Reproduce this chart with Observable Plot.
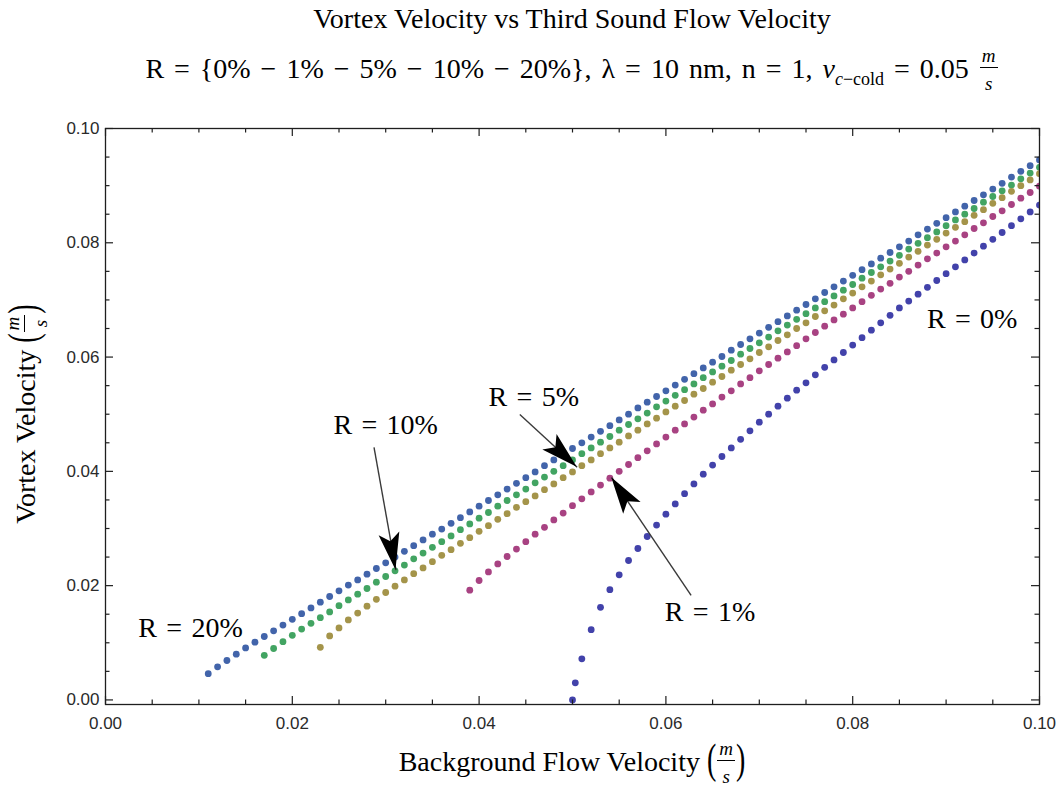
<!DOCTYPE html>
<html>
<head>
<meta charset="utf-8">
<script src="https://cdn.jsdelivr.net/npm/d3@7"></script>
<script src="https://cdn.jsdelivr.net/npm/@observablehq/plot@0.6"></script>
<style>
  html, body { margin: 0; padding: 0; background: #fff; }
  #wrap { position: relative; width: 1060px; height: 789px; background: #fff; overflow: hidden; }
  .serif { font-family: "Liberation Serif", "Times New Roman", serif; color: #000; }
  .lbl { position: absolute; font-size: 28px; line-height: 28px; text-align: center; white-space: nowrap; }
  .frac { display: inline-block; vertical-align: -12px; text-align: center; font-style: italic; font-size: 19px; line-height: 22px; margin: 0 1px; }
  .frac .n { display: block; border-bottom: 1.2px solid #000; padding: 0 2px; }
  .frac .d { display: block; padding-top: 5px; }
  .paren { display: inline-block; transform: scaleY(1.5); transform-origin: 50% 66%; }
  #chart { position: absolute; left: 0; top: 100px; }
</style>
</head>
<body>
<div id="wrap">
  <div id="title" class="serif lbl" style="left:105px;width:934px;top:4.5px;">Vortex Velocity vs Third Sound Flow Velocity</div>
  <div id="subtitle" class="serif lbl" style="left:105px;width:934px;top:45.4px;word-spacing:3px;">R = {0% − 1% − 5% − 10% − 20%}, λ = 10 nm, n = 1, <i>v</i><span style="font-size:18px;position:relative;top:7px;"><i>c</i>−cold</span> = 0.05 <span class="frac"><span class="n">m</span><span class="d">s</span></span></div>
  <div id="chart"></div>
  <div id="xlabel" class="serif lbl" style="left:105px;width:934px;top:738px;">Background Flow Velocity <span class="paren">(</span><span class="frac"><span class="n">m</span><span class="d">s</span></span><span class="paren">)</span></div>
  <div id="ylabel" class="serif lbl" style="left:-221.6px;top:388px;width:500px;height:52px;transform:rotate(-90deg);transform-origin:50% 50%;">Vortex Velocity <span class="paren">(</span><span class="frac"><span class="n">m</span><span class="d">s</span></span><span class="paren">)</span></div>
</div>
<script>
// ---------- data ----------
const flow = [
  0.011,0.012,0.013,0.014,0.015,0.016,0.017,0.018,0.019,0.020,
  0.021,0.022,0.023,0.024,0.025,0.026,0.027,0.028,0.029,0.030,
  0.031,0.032,0.033,0.034,0.035,0.036,0.037,0.038,0.039,0.040,
  0.041,0.042,0.043,0.044,0.045,0.046,0.047,0.048,0.049,0.050,
  0.051,0.052,0.053,0.054,0.055,0.056,0.057,0.058,0.059,0.060,
  0.061,0.062,0.063,0.064,0.065,0.066,0.067,0.068,0.069,0.070,
  0.071,0.072,0.073,0.074,0.075,0.076,0.077,0.078,0.079,0.080,
  0.081,0.082,0.083,0.084,0.085,0.086,0.087,0.088,0.089,0.090,
  0.091,0.092,0.093,0.094,0.095,0.096,0.097,0.098,0.099,0.100
];
const r20 = [
  0.0046,0.0058,0.0069,0.0080,0.0091,0.0101,0.0111,0.0121,0.0131,0.0141,
  0.0151,0.0161,0.0171,0.0181,0.0191,0.0201,0.0210,0.0220,0.0230,0.0240,
  0.0250,0.0260,0.0270,0.0280,0.0290,0.0299,0.0309,0.0319,0.0329,0.0339,
  0.0349,0.0359,0.0369,0.0379,0.0389,0.0399,0.0410,0.0420,0.0430,0.0440,
  0.0450,0.0460,0.0470,0.0480,0.0490,0.0500,0.0511,0.0521,0.0531,0.0541,
  0.0551,0.0561,0.0571,0.0581,0.0591,0.0601,0.0612,0.0622,0.0632,0.0642,
  0.0652,0.0662,0.0672,0.0682,0.0692,0.0702,0.0713,0.0723,0.0733,0.0743,
  0.0753,0.0763,0.0773,0.0783,0.0793,0.0803,0.0814,0.0824,0.0834,0.0844,
  0.0854,0.0864,0.0874,0.0884,0.0894,0.0904,0.0915,0.0925,0.0935,0.0945
];
const r10 = [
  null,null,null,null,null,null,0.0078,0.0090,0.0102,0.0113,
  0.0124,0.0134,0.0144,0.0154,0.0165,0.0175,0.0185,0.0195,0.0206,0.0216,
  0.0226,0.0236,0.0247,0.0257,0.0267,0.0277,0.0287,0.0298,0.0308,0.0318,
  0.0328,0.0339,0.0349,0.0359,0.0369,0.0380,0.0390,0.0400,0.0410,0.0420,
  0.0431,0.0441,0.0451,0.0461,0.0472,0.0482,0.0492,0.0502,0.0513,0.0523,
  0.0533,0.0543,0.0553,0.0564,0.0574,0.0584,0.0594,0.0605,0.0615,0.0625,
  0.0635,0.0646,0.0656,0.0666,0.0676,0.0686,0.0697,0.0707,0.0717,0.0727,
  0.0738,0.0748,0.0758,0.0768,0.0778,0.0789,0.0799,0.0809,0.0819,0.0830,
  0.0840,0.0850,0.0860,0.0871,0.0881,0.0891,0.0901,0.0912,0.0922,0.0932
];
const r5 = [
  null,null,null,null,null,null,null,null,null,null,
  null,null,0.0092,0.0112,0.0126,0.0140,0.0152,0.0164,0.0176,0.0188,
  0.0199,0.0210,0.0221,0.0231,0.0242,0.0253,0.0263,0.0274,0.0284,0.0295,
  0.0305,0.0316,0.0326,0.0337,0.0347,0.0357,0.0368,0.0378,0.0389,0.0399,
  0.0410,0.0420,0.0431,0.0441,0.0451,0.0462,0.0472,0.0483,0.0493,0.0504,
  0.0514,0.0524,0.0535,0.0545,0.0556,0.0566,0.0577,0.0587,0.0597,0.0608,
  0.0618,0.0629,0.0639,0.0650,0.0660,0.0671,0.0681,0.0691,0.0702,0.0712,
  0.0723,0.0733,0.0744,0.0754,0.0764,0.0775,0.0785,0.0796,0.0806,0.0817,
  0.0827,0.0837,0.0848,0.0858,0.0869,0.0879,0.0890,0.0900,0.0910,0.0921
];
const r1 = [
  null,null,null,null,null,null,null,null,null,null,
  null,null,null,null,null,null,null,null,null,null,
  null,null,null,null,null,null,null,null,0.0192,0.0209,
  0.0224,0.0238,0.0251,0.0264,0.0277,0.0290,0.0302,0.0315,0.0327,0.0340,
  0.0352,0.0364,0.0376,0.0388,0.0400,0.0412,0.0424,0.0436,0.0448,0.0460,
  0.0472,0.0483,0.0495,0.0507,0.0518,0.0530,0.0541,0.0553,0.0564,0.0576,
  0.0587,0.0598,0.0609,0.0620,0.0632,0.0643,0.0654,0.0665,0.0675,0.0686,
  0.0697,0.0708,0.0719,0.0729,0.0740,0.0750,0.0761,0.0772,0.0782,0.0793,
  0.0803,0.0814,0.0825,0.0835,0.0846,0.0856,0.0867,0.0878,0.0888,0.0899
];
const r0Flow = [
  0.0500,0.0503,
  0.051,0.052,0.053,0.054,0.055,0.056,0.057,0.058,0.059,0.060,
  0.061,0.062,0.063,0.064,0.065,0.066,0.067,0.068,0.069,0.070,
  0.071,0.072,0.073,0.074,0.075,0.076,0.077,0.078,0.079,0.080,
  0.081,0.082,0.083,0.084,0.085,0.086,0.087,0.088,0.089,0.090,
  0.091,0.092,0.093,0.094,0.095,0.096,0.097,0.098,0.099,0.100
];
const r0 = [
  0.0000,0.0030,
  0.0072,0.0123,0.0162,0.0193,0.0219,0.0244,0.0265,0.0286,0.0306,0.0325,
  0.0343,0.0361,0.0378,0.0395,0.0411,0.0426,0.0441,0.0456,0.0471,0.0486,
  0.0500,0.0514,0.0528,0.0542,0.0555,0.0569,0.0582,0.0595,0.0608,0.0621,
  0.0634,0.0647,0.0660,0.0673,0.0686,0.0698,0.0710,0.0722,0.0734,0.0746,
  0.0758,0.0770,0.0782,0.0794,0.0806,0.0818,0.0830,0.0842,0.0854,0.0866
];
const seriesNames  = ["R = 20%", "R = 10%", "R = 5%", "R = 1%", "R = 0%"];
const seriesColors = ["#4264aa", "#42a462", "#a4944a", "#a84282", "#4242aa"];

const xMajor = [0, 0.02, 0.04, 0.06, 0.08, 0.10];
const xMinor = [0.005,0.010,0.015,0.025,0.030,0.035,0.045,0.050,0.055,0.065,0.070,0.075,0.085,0.090,0.095];
const yMajor = [0, 0.02, 0.04, 0.06, 0.08, 0.10];
const yMinor = [0.005,0.010,0.015,0.025,0.030,0.035,0.045,0.050,0.055,0.065,0.070,0.075,0.085,0.090,0.095];

// annotation labels (data coordinates of label centres)
const noteText = ["R\u2004=\u200420%", "R\u2004=\u200410%", "R\u2004=\u20045%", "R\u2004=\u20041%", "R\u2004=\u20040%"];
const noteX = [0.00911, 0.0300, 0.04586, 0.06472, 0.09279];
const noteY = [0.01251, 0.04802, 0.05292, 0.01531, 0.06674];

// arrows: tail -> tip (data coordinates)
const arrowTailX = [0.02875, 0.04436, 0.0627];
const arrowTailY = [0.0442, 0.04995, 0.01828];
const arrowTipX  = [0.0311, 0.0505, 0.0542];
const arrowTipY  = [0.0227, 0.0407, 0.0389];

// ---------- build ----------
const W = 1060, H = 689, mt = 28, mb = 85, ml = 105, mr = 21;
const innerW = W - ml - mr, innerH = H - mt - mb;
const ink = "#1e1e1e";

const allSeries = [
  {x: flow, y: r20}, {x: flow, y: r10}, {x: flow, y: r5}, {x: flow, y: r1}, {x: r0Flow, y: r0}
];
const dotMarks = allSeries.map((s, k) => {
  const rows = s.x.map((v, i) => ({flow: v, vortex: s.y[i], series: seriesNames[k]})).filter(d => d.vortex != null);
  return Plot.dot(rows, {x: "flow", y: "vortex", r: 3.4, fill: seriesColors[k], stroke: "none", clip: true});
});

const arrows = arrowTailX.map((_, i) => ({x1: arrowTailX[i], y1: arrowTailY[i], x2: arrowTipX[i], y2: arrowTipY[i]}));
const notes = noteText.map((t, i) => ({t, x: noteX[i], y: noteY[i]}));

const plot = Plot.plot({
  width: W, height: H,
  marginTop: mt, marginBottom: mb, marginLeft: ml, marginRight: mr,
  x: {domain: [0, 0.1]},
  y: {domain: [-0.0008, 0.1]},
  style: {fontFamily: "'Liberation Sans', Arial, sans-serif", fontSize: "17px", background: "#fff", color: "#2a2a2a", overflow: "visible"},
  marks: [
    ...dotMarks,
    Plot.link(arrows, {x1: "x1", y1: "y1", x2: "x2", y2: "y2", stroke: "#3a3a3a", strokeWidth: 1.4}),
    Plot.text(notes, {x: "x", y: "y", text: "t", fontFamily: "'Liberation Serif', 'Times New Roman', serif", fontSize: 28, fill: "#000", textAnchor: "middle", lineAnchor: "middle"}),
    // inward frame ticks
    Plot.tickX(xMajor, {x: d => d, insetTop: innerH - 8, stroke: ink, strokeWidth: 1.2}),
    Plot.tickX(xMinor, {x: d => d, insetTop: innerH - 4.5, stroke: ink, strokeWidth: 1.2}),
    Plot.tickX(xMajor, {x: d => d, insetBottom: innerH - 8, stroke: ink, strokeWidth: 1.2}),
    Plot.tickX(xMinor, {x: d => d, insetBottom: innerH - 4.5, stroke: ink, strokeWidth: 1.2}),
    Plot.tickY(yMajor, {y: d => d, insetRight: innerW - 8, stroke: ink, strokeWidth: 1.2}),
    Plot.tickY(yMinor, {y: d => d, insetRight: innerW - 4.5, stroke: ink, strokeWidth: 1.2}),
    Plot.tickY(yMajor, {y: d => d, insetLeft: innerW - 8, stroke: ink, strokeWidth: 1.2}),
    Plot.tickY(yMinor, {y: d => d, insetLeft: innerW - 4.5, stroke: ink, strokeWidth: 1.2}),
    Plot.axisX(xMajor, {tickSize: 0, tickPadding: 12, tickFormat: d3.format(".2f"), label: null}),
    Plot.axisY(yMajor, {tickSize: 0, tickPadding: 6, tickFormat: d3.format(".2f"), label: null}),
    Plot.frame({stroke: ink, strokeWidth: 1.3})
  ]
});

// filled arrowheads positioned through the plot's own scales
const X = plot.scale("x"), Y = plot.scale("y");
const fx = X.apply ? (v => X.apply(v)) : d3.scaleLinear(X.domain, X.range);
const fy = Y.apply ? (v => Y.apply(v)) : d3.scaleLinear(Y.domain, Y.range);
const g = d3.select(plot).append("g").attr("aria-label", "arrowheads");
arrows.forEach(a => {
  const x1 = fx(a.x1), y1 = fy(a.y1), x2 = fx(a.x2), y2 = fy(a.y2);
  const dx = x2 - x1, dy = y2 - y1, L = Math.hypot(dx, dy), ux = dx / L, uy = dy / L;
  const len = 37, hw = 10.5, notch = 29;
  const bx = x2 - ux * len, by = y2 - uy * len;
  const nx = x2 - ux * notch, ny = y2 - uy * notch;
  g.append("path")
    .attr("d", `M${x2},${y2}L${bx - uy * hw},${by + ux * hw}L${nx},${ny}L${bx + uy * hw},${by - ux * hw}Z`)
    .attr("fill", "#000");
});

document.getElementById("chart").appendChild(plot);
</script>
</body>
</html>
